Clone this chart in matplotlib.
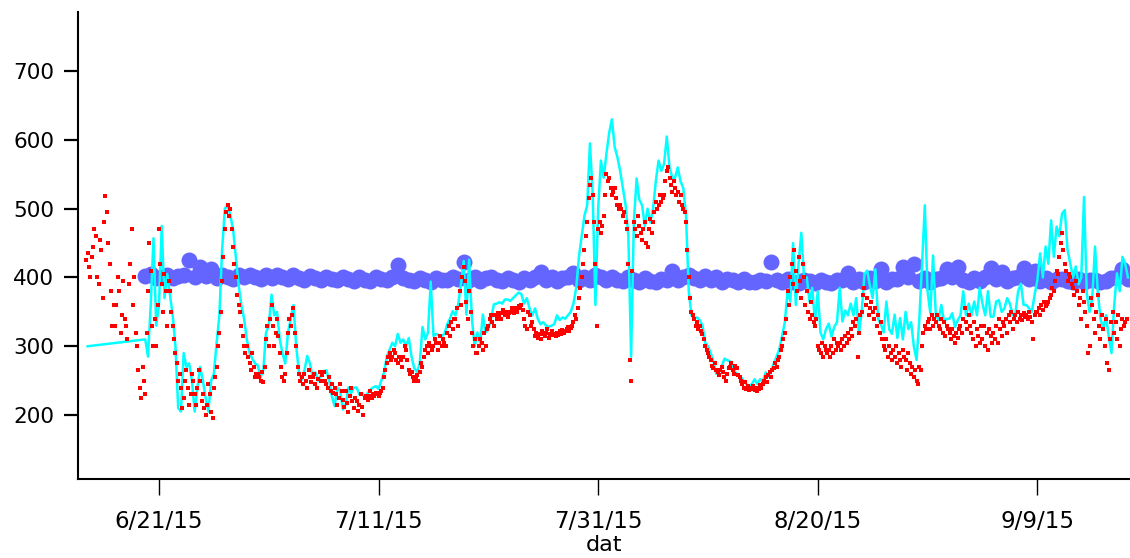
import pandas as pd
import matplotlib
matplotlib.use('Agg')
import matplotlib.pyplot as plt

# red readings, every 3 hours from 6/14/15 09:00 (one line per day)
red_vals = [
    425, 435, 415, 400, 430,
    445, 470, 460, 400, 390, 455, 440, 370,
    480, 518, 495, 450, 420, 380, 330, 360,
    330, 360, 400, 380, 320, 345, 395, 340,
    330, 310, 390, 420, 470, 360, 400, 320,
    300, 265, 240, 225, 270, 250, 230, 320,
    380, 450, 410, 330, 300, 340, 300, 360,
    470, 420, 390, 350, 405, 380, 330, 395,
    380, 350, 330, 310, 290, 275, 250, 260,
    240, 210, 225, 250, 265, 240, 215, 230,
    260, 250, 230, 215, 240, 265, 250, 220,
    230, 210, 200, 215, 245, 230, 205, 195,
    240, 255, 270, 300, 320, 350, 395, 430,
    470, 495, 505, 490, 500, 470, 445, 420,
    400, 375, 360, 350, 330, 315, 300, 290,
    300, 285, 275, 265, 290, 270, 255, 260,
    260, 255, 250, 262, 248, 270, 310, 330,
    300, 340, 360, 330, 300, 320, 340, 315,
    290, 270, 255, 250, 260, 290, 320, 340,
    330, 345, 355, 320, 300, 270, 260, 250,
    255, 245, 260, 250, 240, 265, 255, 248,
    255, 260, 245, 240, 252, 262, 250, 258,
    262, 250, 245, 240, 255, 235, 245, 232,
    240, 230, 215, 225, 245, 235, 222, 212,
    235, 218, 205, 228, 240, 220, 210, 225,
    220, 206, 215, 230, 212, 200, 225, 228,
    222, 228, 235, 225, 230, 228, 232, 230,
    228, 232, 235, 240, 255, 265, 275, 285,
    290, 280, 285, 295, 290, 280, 275, 285,
    280, 270, 285, 300, 295, 280, 265, 260,
    262, 255, 250, 252, 258, 250, 262, 275,
    270, 285, 295, 300, 290, 305, 300, 295,
    300, 310, 305, 295, 305, 315, 300, 310,
    305, 300, 320, 330, 315, 335, 325, 340,
    340, 355, 330, 380, 360, 400, 415, 395,
    365, 340, 380, 350, 320, 300, 310, 290,
    290, 300, 310, 305, 295, 320, 300, 325,
    330, 340, 345, 335, 330, 345, 340, 348,
    345, 340, 348, 352, 345, 350, 342, 348,
    350, 355, 352, 348, 356, 350, 358, 355,
    360, 352, 340, 330, 325, 350, 345, 330,
    335, 325, 315, 320, 312, 318, 310, 322,
    318, 315, 320, 325, 312, 318, 322, 316,
    318, 315, 320, 316, 322, 318, 324, 320,
    322, 325, 328, 322, 326, 330, 335, 345,
    340, 355, 370, 385, 400, 420, 440, 460,
    480, 515, 535, 545, 520, 480, 420, 330,
    470, 480, 465, 475, 490, 520, 550, 540,
    545, 530, 520, 525, 530, 515, 505, 500,
    505, 500, 490, 495, 480, 470, 420, 280,
    250, 410, 480, 470, 460, 490, 475, 465,
    455, 470, 480, 450, 445, 470, 485, 465,
    480, 495, 510, 500, 505, 520, 510, 515,
    520, 540, 555, 560, 545, 535, 525, 540,
    530, 520, 525, 510, 520, 505, 500, 495,
    480, 440, 400, 370, 350, 345, 340, 330,
    335, 325, 330, 322, 318, 310, 300, 295,
    290, 285, 280, 272, 268, 275, 265, 262,
    258, 265, 270, 262, 255, 250, 260, 268,
    270, 275, 265, 260, 272, 268, 258, 255,
    250, 245, 240, 248, 238, 242, 236, 240,
    238, 242, 236, 240, 235, 238, 243, 240,
    245, 250, 255, 248, 258, 262, 255, 265,
    268, 275, 270, 280, 285, 295, 300, 310,
    320, 340, 380, 360, 400, 420, 390, 440,
    410, 380, 430, 395, 370, 420, 400, 360,
    380, 350, 340, 365, 345, 335, 330, 340,
    300, 295, 290, 305, 285, 300, 295, 290,
    295, 285, 300, 290, 310, 295, 305, 300,
    305, 295, 310, 300, 315, 305, 320, 310,
    325, 315, 335, 330, 340, 285, 320, 345,
    350, 375, 385, 360, 370, 345, 355, 365,
    350, 340, 355, 330, 345, 320, 335, 310,
    300, 295, 310, 285, 300, 290, 280, 295,
    285, 300, 275, 290, 280, 270, 295, 285,
    280, 265, 290, 275, 260, 270, 255, 265,
    250, 245, 270, 265, 300, 320, 330, 325,
    335, 340, 325, 345, 330, 340, 335, 345,
    330, 325, 340, 320, 335, 315, 330, 325,
    320, 310, 325, 315, 305, 320, 312, 325,
    330, 320, 340, 355, 335, 325, 345, 330,
    320, 310, 335, 300, 325, 315, 305, 330,
    310, 330, 300, 320, 295, 325, 315, 305,
    320, 310, 330, 305, 340, 325, 315, 335,
    330, 340, 320, 345, 335, 350, 325, 340,
    345, 335, 350, 340, 345, 338, 348, 342,
    345, 340, 350, 342, 335, 310, 345, 350,
    350, 355, 345, 360, 352, 365, 358, 362,
    365, 370, 375, 385, 380, 395, 410, 405,
    430, 450, 465, 440, 420, 410, 395, 405,
    400, 390, 385, 375, 395, 380, 360, 370,
    340, 380, 365, 350, 330, 290, 300, 370,
    360, 340, 320, 350, 375, 330, 310, 345,
    325, 300, 340, 275, 265, 310, 335, 350,
    320, 335, 310, 345, 300, 325, 340, 330,
    335, 340,
]

# cyan line: one reading on 6/14/15 12:00, then every 6 hours from 6/19/15 18:00
cyan_vals = [
    300,
    310,
    285, 360, 457, 330,
    360, 475, 370, 405,
    375, 345, 300, 210,
    205, 290, 270, 275,
    250, 205, 240, 270,
    250, 225, 205, 250,
    260, 305, 345, 440,
    500, 505, 490, 470,
    430, 390, 360, 340,
    310, 290, 282, 275,
    272, 255, 265, 320,
    330, 375, 345, 350,
    310, 290, 275, 320,
    340, 360, 300, 262,
    251, 265, 286, 275,
    255, 262, 250, 258,
    264, 265, 250, 227,
    213, 240, 235, 208,
    215, 240, 232, 240,
    240, 230, 232, 225,
    232, 237, 240, 242,
    238, 250, 262, 285,
    295, 305, 300, 318,
    305, 310, 300, 312,
    285, 268, 263, 275,
    328, 310, 320, 394,
    315, 318, 316, 315,
    318, 332, 340, 351,
    345, 361, 390, 424,
    346, 426, 340, 300,
    320, 305, 346, 320,
    325, 340, 361, 362,
    364, 362, 368, 368,
    366, 370, 374, 378,
    376, 362, 370, 355,
    345, 355, 340, 332,
    335, 330, 328, 330,
    332, 345, 338, 342,
    340, 345, 350, 362,
    385, 430, 460, 490,
    505, 595, 522, 360,
    500, 570, 545, 580,
    610, 630, 590, 575,
    555, 530, 505, 460,
    285, 480, 544, 513,
    505, 475, 500, 480,
    500, 540, 570, 555,
    565, 605, 560, 545,
    545, 560, 540, 530,
    490, 380, 345, 340,
    342, 338, 330, 305,
    300, 290, 278, 260,
    262, 270, 282, 280,
    278, 270, 262, 258,
    255, 250, 245, 242,
    245, 252, 245, 252,
    248, 262, 256, 265,
    275, 285, 296, 315,
    335, 380, 365, 450,
    360, 420, 465, 400,
    400, 365, 385, 335,
    380, 320, 310, 325,
    333, 314, 328, 335,
    385, 336, 352, 345,
    362, 345, 370, 318,
    350, 405, 410, 388,
    370, 412, 340, 332,
    320, 365, 325, 318,
    346, 312, 341, 310,
    350, 325, 335, 300,
    280, 340, 420, 505,
    380, 348, 432, 346,
    338, 360, 336, 340,
    340, 348, 328, 338,
    345, 380, 345, 362,
    345, 365, 345, 385,
    362, 345, 380, 343,
    343, 365, 367, 350,
    355, 370, 362, 345,
    348, 380, 391, 360,
    360, 355, 350, 375,
    396, 435, 400, 445,
    420, 483, 430, 474,
    460, 493, 498, 440,
    420, 400, 416, 390,
    400, 517, 377, 350,
    370, 445, 380, 340,
    325, 345, 314, 290,
    360, 406, 380, 430,
    420, 400,
]

# blue circles, every 12 hours from 6/19/15 18:00
blue_vals = [
    402,
    405, 399, 401, 404, 399, 402, 404, 425, 401, 415, 402, 412,
    399, 404, 401, 398, 403, 400, 404, 401, 398, 403, 399, 404,
    401, 398, 403, 399, 397, 402, 399, 396, 401, 398, 396, 400,
    398, 395, 400, 397, 395, 400, 398, 396, 401, 418, 399, 396,
    395, 399, 397, 394, 399, 396, 396, 400, 398, 422, 396, 400,
    395, 399, 400, 396, 395, 399, 397, 394, 399, 396, 400, 408,
    396, 400, 395, 399, 400, 406, 396, 401, 397, 403, 400, 396,
    401, 397, 395, 400, 397, 394, 399, 395, 393, 398, 396, 410,
    396, 400, 403, 399, 397, 402, 396, 400, 394, 398, 396, 393,
    398, 394, 393, 397, 395, 422, 397, 393, 398, 394, 392, 397,
    395, 392, 397, 393, 392, 396, 396, 406, 393, 398, 394, 399,
    395, 412, 393, 398, 398, 415, 400, 419, 395, 399, 394, 398,
    399, 413, 401, 415, 396, 394, 399, 395, 400, 414, 398, 408,
    395, 399, 400, 414, 398, 410, 395, 399, 394, 398, 398, 395,
    394, 398, 393, 397, 397, 394, 395, 399, 400, 412,
    398,
]

tick_dates = ['2015-06-21', '2015-07-11', '2015-07-31', '2015-08-20', '2015-09-09']
tick_labels = ['6/21/15', '7/11/15', '7/31/15', '8/20/15', '9/9/15']
y_ticks = [200, 300, 400, 500, 600, 700]

red_t = pd.date_range('2015-06-14 09:00', periods=len(red_vals), freq='3h')
cyan_t = [pd.Timestamp('2015-06-14 12:00')] + list(
    pd.date_range('2015-06-19 18:00', periods=len(cyan_vals) - 1, freq='6h'))
blue_t = pd.date_range('2015-06-19 18:00', periods=len(blue_vals), freq='12h')

fig = plt.figure(figsize=(11.3, 5.58), dpi=100)
ax = fig.add_axes([78 / 1130, 79 / 558, 1052 / 1130, 467 / 558])

ax.plot(blue_t, blue_vals, 'o', color='#6464ff', ms=11.5, mew=0, zorder=1)
ax.plot(cyan_t, cyan_vals, '-', color='#00ffff', lw=1.8, zorder=2)
ax.plot(red_t, red_vals, 's', color='#ff0000', ms=2.8, mew=0, zorder=3)

ax.set_xlim(pd.Timestamp('2015-06-13 15:00'), pd.Timestamp('2015-09-17 10:30'))
ax.set_ylim(107, 786)
ax.set_yticks(y_ticks)
ax.set_xticks(pd.to_datetime(tick_dates))
ax.set_xticklabels(tick_labels)

for s in ['top', 'right']:
    ax.spines[s].set_visible(False)
ax.spines['left'].set_linewidth(1.5)
ax.spines['bottom'].set_linewidth(1.5)

ax.tick_params(axis='y', length=10, width=1.6, pad=7, labelsize=15.5)
ax.tick_params(axis='x', length=11.5, width=1.0, pad=11, labelsize=16.5)
ax.set_xlabel('dat', fontsize=16, labelpad=1)

fig.savefig('out.png', dpi=100)
